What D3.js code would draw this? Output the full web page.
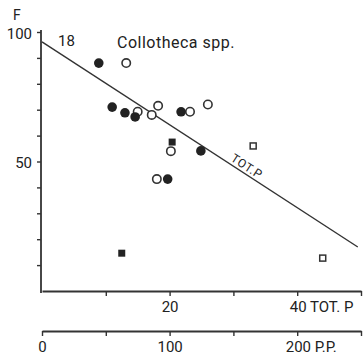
<!DOCTYPE html>
<html>
<head>
<meta charset="utf-8">
<script src="https://cdn.jsdelivr.net/npm/d3@7"></script>
<style>
    body { margin: 0; background: #fff; }
    text { font-family: Roboto, "DejaVu Sans", sans-serif; fill: #222; }
</style>
</head>
<body>
<div id="wrapper"></div>
<script>
// values (TOT.P on x, F on y)
const filledCircles = [
    [8.9, 88], [11.0, 71], [13.0, 68.8], [14.6, 67.2],
    [21.8, 69.2], [24.9, 54.1], [19.7, 43.2]
]
const openCircles = [
    [13.2, 88], [15.0, 69.2], [17.2, 68], [18.2, 71.5],
    [23.2, 69.2], [26.0, 72], [20.2, 54], [18.0, 43.2]
]
const filledSquares = [[20.4, 57.5], [12.5, 14.6]]
const openSquares = [[33.1, 56], [44.0, 12.7]]
const fitX = [0, 49.5]
const fitY = [96.2, 17.0]
const yTicks = [10, 20, 30, 40, 50, 60, 70, 80, 90, 100]
const yLabels = [50, 100]
const totTicks = [10, 20, 30, 40, 50]
const totLabels = [20, 40]
const ppTicks = [0, 50, 100, 150, 200, 250]
const ppLabels = [0, 100, 200]

function drawChart() {
    const xAcc = d => d[0]
    const yAcc = d => d[1]

    let dimensions = {
        width: 363,
        height: 362,
        margin: { top: 32, right: 2, bottom: 71, left: 42 }
    }
    dimensions.boundedWidth = dimensions.width - dimensions.margin.left - dimensions.margin.right
    dimensions.boundedHeight = dimensions.height - dimensions.margin.top - dimensions.margin.bottom

    const svg = d3.select('#wrapper').append('svg')
        .attr('width', dimensions.width)
        .attr('height', dimensions.height)

    const bounds = svg.append('g')
        .attr('transform', `translate(${dimensions.margin.left}, ${dimensions.margin.top})`)

    const xScale = d3.scaleLinear().domain([0, 50]).range([0, dimensions.boundedWidth])
    const ppScale = d3.scaleLinear().domain([0, 250]).range([0, dimensions.boundedWidth])
    const yScale = d3.scaleLinear().domain([0, 100]).range([dimensions.boundedHeight, 0])

    // axes
    const yAxis = d3.axisLeft(yScale)
        .tickValues(yTicks)
        .tickSize(4)
        .tickSizeOuter(0)
        .tickPadding(5)
        .tickFormat(d => yLabels.includes(d) ? d : '')
    const yG = bounds.append('g').attr('transform', 'translate(-1,0)').call(yAxis)

    const xAxis = d3.axisBottom(xScale)
        .tickValues(totTicks)
        .tickSize(5)
        .tickSizeOuter(0)
        .tickPadding(5)
        .tickFormat(d => d == 40 ? '40 TOT. P' : (totLabels.includes(d) ? d : ''))
    const xG = bounds.append('g')
        .attr('transform', `translate(0, ${dimensions.boundedHeight})`)
        .call(xAxis)

    const ppAxis = d3.axisBottom(ppScale)
        .tickValues(ppTicks)
        .tickSize(5)
        .tickSizeOuter(0)
        .tickPadding(5)
        .tickFormat(d => d == 200 ? '200 P.P.' : (ppLabels.includes(d) ? d : ''))
    const ppG = bounds.append('g')
        .attr('transform', `translate(0, ${dimensions.boundedHeight + 40})`)
        .call(ppAxis)

    for (const g of [yG, xG, ppG]) {
        g.select('.domain').attr('stroke', '#333').attr('stroke-width', 1.8)
        g.selectAll('.tick line').attr('stroke', '#333').attr('stroke-width', 1.4)
        g.selectAll('.tick text')
            .attr('fill', '#222')
            .style('font-family', 'Roboto, sans-serif')
            .style('font-size', '15px')
    }
    // the unit names hang to the right of the tick value
    xG.selectAll('.tick text').filter(d => d == 40).attr('text-anchor', 'start').attr('dx', '-8')
    ppG.selectAll('.tick text').filter(d => d == 200).attr('text-anchor', 'start').attr('dx', '-12')
    yG.selectAll('.tick text').attr('dy', '0.42em')
    yG.select('.domain').attr('d', `M0,${dimensions.boundedHeight + 2}V-2`)

    // regression line
    const line = d3.line().x(d => xScale(d[0])).y(d => yScale(d[1]))
    const fit = d3.zip(fitX, fitY)
    bounds.append('path')
        .attr('d', line(fit))
        .attr('fill', 'none')
        .attr('stroke', '#333')
        .attr('stroke-width', 1.4)

    const angle = Math.atan2(yScale(fitY[1]) - yScale(fitY[0]), xScale(fitX[1]) - xScale(fitX[0])) * 180 / Math.PI
    const labelX = 29.2
    const labelY = fitY[0] + (fitY[1] - fitY[0]) * (labelX - fitX[0]) / (fitX[1] - fitX[0])
    bounds.append('text')
        .attr('transform', `translate(${xScale(labelX)}, ${yScale(labelY)}) rotate(${angle}) translate(0,-3)`)
        .style('font-size', '12px')
        .style('letter-spacing', '0.6px')
        .text('TOT.P')

    // points
    bounds.selectAll('.open')
        .data(openCircles)
        .enter()
        .append('circle')
        .attr('class', 'open')
        .attr('cx', d => xScale(xAcc(d)))
        .attr('cy', d => yScale(yAcc(d)))
        .attr('r', 4.2)
        .attr('fill', '#fff')
        .attr('stroke', '#333')
        .attr('stroke-width', 1.6)

    bounds.selectAll('.filled')
        .data(filledCircles)
        .enter()
        .append('circle')
        .attr('class', 'filled')
        .attr('cx', d => xScale(xAcc(d)))
        .attr('cy', d => yScale(yAcc(d)))
        .attr('r', 4.8)
        .attr('fill', '#222')

    bounds.selectAll('.fsq')
        .data(filledSquares)
        .enter()
        .append('rect')
        .attr('class', 'fsq')
        .attr('x', d => xScale(xAcc(d)) - 3.5)
        .attr('y', d => yScale(yAcc(d)) - 3.5)
        .attr('width', 7)
        .attr('height', 7)
        .attr('fill', '#222')

    bounds.selectAll('.osq')
        .data(openSquares)
        .enter()
        .append('rect')
        .attr('class', 'osq')
        .attr('x', d => xScale(xAcc(d)) - 3)
        .attr('y', d => yScale(yAcc(d)) - 3)
        .attr('width', 6)
        .attr('height', 6)
        .attr('fill', '#fff')
        .attr('stroke', '#333')
        .attr('stroke-width', 1.5)

    // labels
    svg.append('text').attr('x', 13).attr('y', 20).style('font-size', '14px').text('F')
    svg.append('text').attr('x', 58).attr('y', 46).style('font-size', '15px').text('18')
    svg.append('text').attr('x', 117).attr('y', 48)
        .style('font-size', '16px')
        .style('letter-spacing', '0.5px')
        .text('Collotheca spp.')
}

drawChart()
</script>
</body>
</html>
